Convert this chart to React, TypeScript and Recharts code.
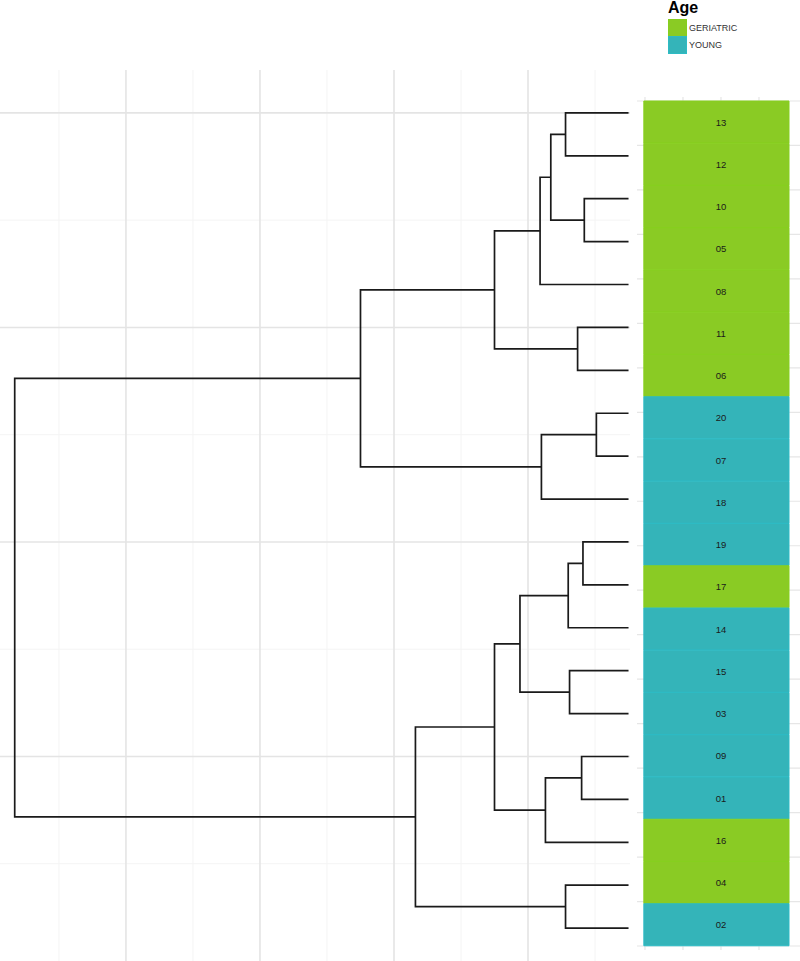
import React from "react";
import {
    ComposedChart,
    Scatter,
    Bar,
    Cell,
    XAxis,
    YAxis,
    ReferenceLine,
} from "recharts";

// leaves, top to bottom, and their age group
const leafOrder = [
    "13", "12", "10", "05", "08", "11", "06", "20", "07", "18",
    "19", "17", "14", "15", "03", "09", "01", "16", "04", "02",
];
const leafAge = [
    "GERIATRIC", "GERIATRIC", "GERIATRIC", "GERIATRIC", "GERIATRIC",
    "GERIATRIC", "GERIATRIC", "YOUNG", "YOUNG", "YOUNG",
    "YOUNG", "GERIATRIC", "YOUNG", "YOUNG", "YOUNG",
    "YOUNG", "YOUNG", "GERIATRIC", "GERIATRIC", "YOUNG",
];
const ageGroups = ["GERIATRIC", "YOUNG"];
const ageColors = ["#8ACB24", "#34B4B9"];
const ageStroke = ["#86CF1E", "#2DBBC4"];

// merges in order: "mN" points at the N-th merge
const mergeLeft = [
    "13", "10", "m0", "m2", "11", "m3", "20", "m6", "m5", "19",
    "m9", "15", "m10", "09", "m13", "m12", "04", "m15", "m8",
];
const mergeRight = [
    "12", "05", "m1", "08", "06", "m4", "07", "18", "m7", "17",
    "14", "03", "m11", "01", "16", "m14", "02", "m16", "m17",
];
const mergeHeight = [
    7.2, 5.8, 8.3, 9.1, 6.3, 12.5, 4.9, 9.0, 22.5, 5.9,
    7.0, 6.9, 10.6, 6.0, 8.7, 12.5, 7.2, 18.4, 48.3,
];
const leafHeight = 2.5;

const heightTicks = [10, 20, 30, 40];
const heightMinor = [5, 15, 25, 35, 45];
const positionTicks = [5, 10, 15, 20];
const positionMinor = [2.5, 7.5, 12.5, 17.5];
const tileTicks = [1, 2, 3, 4];
const tileSpan = [0.97, 4.79];
const labelAt = 3;

const FONT = "'Liberation Sans', Arial, sans-serif";
const MAJOR = { stroke: "#e4e4e4", strokeWidth: 1.6 };
const MINOR = { stroke: "#f4f4f4", strokeWidth: 1 };
const TILE_GRID = { stroke: "#e6e6e6", strokeWidth: 1.2 };

const nodePos: Record<string, { h: number; p: number }> = {};
leafOrder.forEach((id, i) => {
    nodePos[id] = { h: leafHeight, p: leafOrder.length - i };
});
const links = mergeLeft.map((a, i) => {
    const A = nodePos[a];
    const B = nodePos[mergeRight[i]];
    const H = mergeHeight[i];
    nodePos["m" + i] = { h: H, p: (A.p + B.p) / 2 };
    return [
        { h: A.h, p: A.p },
        { h: H, p: A.p },
        { h: H, p: B.p },
        { h: B.h, p: B.p },
    ];
});

const tileRows = leafOrder.map((id, i) => ({
    id,
    age: leafAge[i],
    span: tileSpan,
    labelX: labelAt,
}));

const TileLabel = (props: any) => (
    <text
        x={props.cx}
        y={props.cy}
        textAnchor="middle"
        dominantBaseline="central"
        fontSize={9.5}
        fontFamily={FONT}
        fill="#1a1a1a"
    >
        {props.payload.id}
    </text>
);

// both tile layers share the same frame and axes
const tileFrame = {
    layout: "vertical" as const,
    width: 190,
    height: 853,
    data: tileRows,
    barCategoryGap: 0,
    margin: { top: 0, right: 0, bottom: 0, left: 0 },
};

const tileAxes = [
    <XAxis
        key="x"
        type="number"
        dataKey="labelX"
        domain={[0.79, 5.79]}
        ticks={tileTicks}
        allowDataOverflow
        hide
    />,
    <YAxis
        key="y"
        type="category"
        dataKey="id"
        padding={{ top: 4, bottom: 4 }}
        hide
    />,
];

const App = () => {
    return (
        <div
            style={{
                position: "absolute",
                left: 0,
                top: 0,
                width: 800,
                height: 961,
                overflow: "hidden",
                background: "#fff",
            }}
        >
            <div style={{ position: "absolute", left: -20, top: 70 }}>
                <ComposedChart
                    width={650}
                    height={901}
                    margin={{ top: 0, right: 0, bottom: 0, left: 0 }}
                >
                    <XAxis
                        type="number"
                        dataKey="h"
                        domain={[2.39, 50.89]}
                        ticks={heightTicks}
                        reversed
                        allowDataOverflow
                        hide
                    />
                    <YAxis
                        type="number"
                        dataKey="p"
                        domain={[0, 21]}
                        ticks={positionTicks}
                        allowDataOverflow
                        hide
                    />
                    {heightMinor.map((v) => (
                        <ReferenceLine key={`hm-${v}`} x={v} {...MINOR} />
                    ))}
                    {positionMinor.map((v) => (
                        <ReferenceLine key={`pm-${v}`} y={v} {...MINOR} />
                    ))}
                    {heightTicks.map((v) => (
                        <ReferenceLine key={`hM-${v}`} x={v} {...MAJOR} />
                    ))}
                    {positionTicks.map((v) => (
                        <ReferenceLine key={`pM-${v}`} y={v} {...MAJOR} />
                    ))}
                    {links.map((d, i) => (
                        <Scatter
                            key={`link-${i}`}
                            data={d}
                            line={{ stroke: "#1a1a1a", strokeWidth: 1.7 }}
                            shape={() => <g />}
                            isAnimationActive={false}
                        />
                    ))}
                </ComposedChart>
            </div>

            {/* tile panel grid, drawn underneath the tiles */}
            <div style={{ position: "absolute", left: 637, top: 97 }}>
                <ComposedChart {...tileFrame}>
                    {tileAxes}
                    {tileTicks.map((v) => (
                        <ReferenceLine key={`tx-${v}`} x={v} {...TILE_GRID} />
                    ))}
                    {leafOrder.map((id) => (
                        <ReferenceLine key={`ty-${id}`} y={id} {...TILE_GRID} />
                    ))}
                </ComposedChart>
            </div>

            <div style={{ position: "absolute", left: 637, top: 97 }}>
                <ComposedChart {...tileFrame}>
                    {tileAxes}
                    <Bar dataKey="span" isAnimationActive={false}>
                        {tileRows.map((r) => {
                            const k = ageGroups.indexOf(r.age);
                            return (
                                <Cell
                                    key={r.id}
                                    fill={ageColors[k]}
                                    stroke={ageStroke[k]}
                                    strokeWidth={1}
                                />
                            );
                        })}
                    </Bar>
                    <Scatter
                        dataKey="labelX"
                        shape={TileLabel}
                        isAnimationActive={false}
                    />
                </ComposedChart>
            </div>

            <div
                style={{
                    position: "absolute",
                    left: 668,
                    top: 0,
                    fontFamily: FONT,
                    fontWeight: "bold",
                    fontSize: 16,
                    lineHeight: "16px",
                }}
            >
                Age
            </div>
            <div
                style={{
                    position: "absolute",
                    left: 668,
                    top: 19,
                    fontFamily: FONT,
                }}
            >
                {ageGroups.map((g, i) => (
                    <div
                        key={g}
                        style={{ display: "flex", alignItems: "center", height: 17 }}
                    >
                        <div
                            style={{
                                width: 17,
                                height: 16,
                                background: ageColors[i],
                                border: `1px solid ${ageStroke[i]}`,
                                boxSizing: "content-box",
                            }}
                        />
                        <span style={{ fontSize: 9, color: "#333", marginLeft: 2 }}>
                            {g}
                        </span>
                    </div>
                ))}
            </div>
        </div>
    );
};

export default App;
